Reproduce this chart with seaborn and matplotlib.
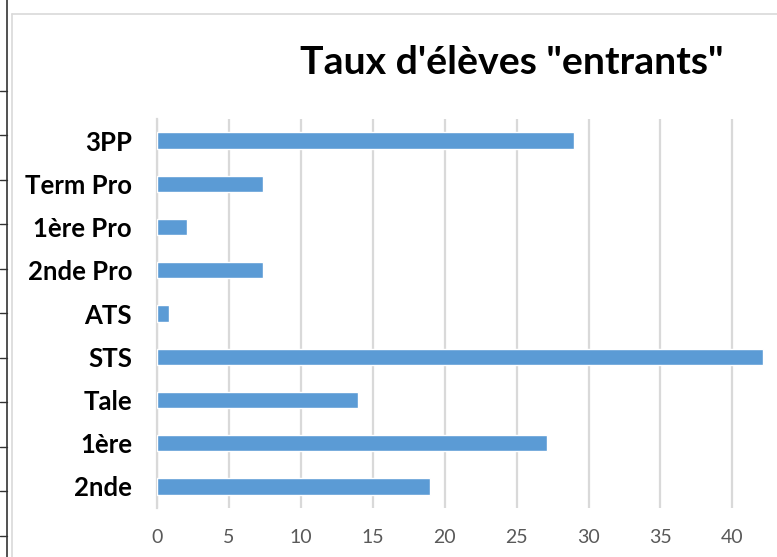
import matplotlib
matplotlib.use("Agg")
import matplotlib.pyplot as plt
import seaborn as sns
import pandas as pd
from matplotlib.lines import Line2D

# données
categories = ["3PP", "Term Pro", "1ère Pro", "2nde Pro", "ATS", "STS", "Tale", "1ère", "2nde"]
taux = [29.0, 7.4, 2.1, 7.4, 0.85, 42.1, 14.0, 27.1, 19.0]
x_ticks = [0, 5, 10, 15, 20, 25, 30, 35, 40]

sns.set_theme(style="white")
plt.rcParams['font.family'] = ['Lato', 'DejaVu Sans']

W, H = 777, 557
fig = plt.figure(figsize=(W / 100, H / 100), dpi=100)
ax = fig.add_axes([157 / W, 1 - 508 / H, 620 / W, 389 / H])

df = pd.DataFrame({"cat": categories, "taux": taux})
sns.barplot(data=df, y="cat", x="taux", order=categories, orient="h",
            color="#5B9BD5", saturation=1, width=0.38, ax=ax, zorder=3)

ax.set_xlim(0, 43.1)
ax.set_xticks(x_ticks)
ax.set_xticklabels([str(t) for t in x_ticks], color="#595959", fontsize=14)
ax.tick_params(axis="x", length=0, pad=15)
ax.tick_params(axis="y", length=0, pad=18)
for lab in ax.get_yticklabels():
    lab.set_fontweight("bold")
    lab.set_fontsize(18.5)
    lab.set_color("black")
ax.grid(axis="x", color="#D9D9D9", linewidth=1.6, zorder=0)
ax.set_axisbelow(True)
for s in ["top", "right", "bottom"]:
    ax.spines[s].set_visible(False)
ax.spines["left"].set_color("#D9D9D9")
ax.spines["left"].set_linewidth(1.6)
ax.set_xlabel("")
ax.set_ylabel("")

fig.text(512 / W, 1 - 62 / H, "Taux d'élèves \"entrants\"", ha="center", va="center",
         fontsize=28.3, fontweight="bold", color="black")

# cadre du graphique et bord de feuille
fig.add_artist(Line2D([12 / W, 12 / W], [0, 1 - 14 / H], color="#D9D9D9", lw=1.2))
fig.add_artist(Line2D([12 / W, 1], [1 - 14 / H, 1 - 14 / H], color="#D9D9D9", lw=1.2))
fig.add_artist(Line2D([6.5 / W, 6.5 / W], [0, 1], color="#333333", lw=1.2))
for yy in [91, 135, 180, 224, 269, 313, 358, 402, 447, 491, 536]:
    fig.add_artist(Line2D([0, 6.5 / W], [1 - yy / H, 1 - yy / H], color="#333333", lw=1.0))

fig.savefig("out.png", dpi=100)
